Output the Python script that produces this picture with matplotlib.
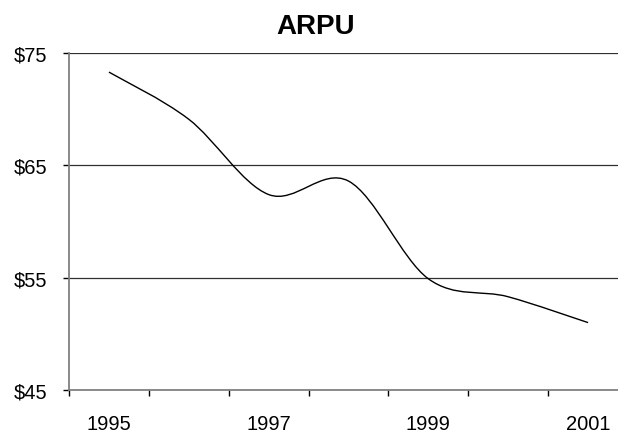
import numpy as np
import matplotlib
matplotlib.use('Agg')
import matplotlib.pyplot as plt
from matplotlib.path import Path
from matplotlib.patches import PathPatch

plt.rcParams['font.family'] = ['Liberation Sans', 'DejaVu Sans']

# data
years = ['1995', '1996', '1997', '1998', '1999', '2000', '2001']
arpu = [73.3, 69.1, 62.4, 63.6, 54.9, 53.3, 51.0]
y_ticks = [45, 55, 65, 75]
y_labels = ['$45', '$55', '$65', '$75']
shown_years = ['1995', '1997', '1999', '2001']


def smooth_path(xs, ys):
    # excel-like smoothed line: bezier segments through each point
    pts = np.column_stack([xs, ys]).astype(float)
    n = len(pts)
    verts = [pts[0]]
    codes = [Path.MOVETO]
    for i in range(n - 1):
        p0 = pts[i - 1] if i > 0 else pts[i]
        p1 = pts[i]
        p2 = pts[i + 1]
        p3 = pts[i + 2] if i + 2 < n else pts[i + 1]
        c1 = p1 + (p2 - p0) / 6.0
        c2 = p2 - (p3 - p1) / 6.0
        verts += [c1, c2, p2]
        codes += [Path.CURVE4] * 3
    return Path(verts, codes)


fig = plt.figure(figsize=(6.18, 4.35), dpi=100)
ax = fig.add_axes([69 / 618, 44 / 435, 559 / 618, 337 / 435])

xpos = np.arange(len(years))
ax.add_patch(PathPatch(smooth_path(xpos, arpu), fill=False,
                       edgecolor='black', lw=1.0, zorder=3))

ax.set_xlim(-0.5, len(years) - 0.5)
ax.set_ylim(45, 75)

# gridlines
for v in y_ticks[1:]:
    ax.axhline(v, color='#303030', lw=0.9, zorder=1)

ax.set_yticks(y_ticks)
ax.set_yticklabels(y_labels)
ax.set_xticks([years.index(y) for y in shown_years])
ax.set_xticklabels(shown_years)
ax.set_xticks(np.arange(-0.5, len(years), 1.0), minor=True)

ax.tick_params(axis='x', which='major', length=0, pad=17, labelsize=14.5)
ax.tick_params(axis='x', which='minor', length=4.5, width=1.0,
               color='black', direction='out')
ax.tick_params(axis='y', length=4.5, width=1.0, color='black',
               pad=11, labelsize=14.5)

for s in ['top', 'right']:
    ax.spines[s].set_visible(False)
for s in ['left', 'bottom']:
    ax.spines[s].set_color('#808080')
    ax.spines[s].set_linewidth(1.3)

fig.text(316 / 618, 1 - 27 / 435, 'ARPU', ha='center', va='center',
         fontsize=20, fontweight='bold')

fig.savefig('out.png', dpi=100)
